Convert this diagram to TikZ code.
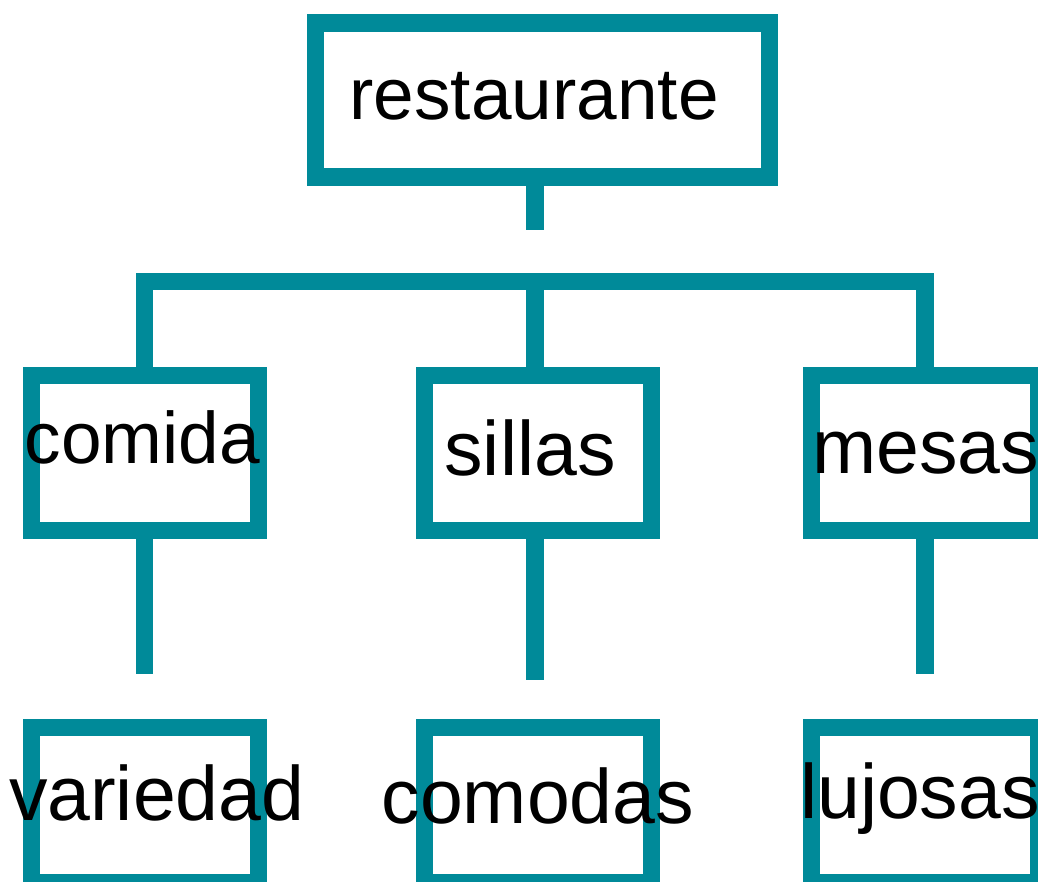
\documentclass[tikz,border=0pt]{standalone}
\usepackage{fontspec}
\setmainfont{Liberation Sans}
\usepackage{tikz}
\usepackage{xcolor}
\definecolor{teal0}{RGB}{0,138,153}
\tikzset{%
	box/.style    = {draw=teal0, line width=17.3pt, rectangle, inner sep=0pt, minimum width=227pt, minimum height=155pt},
	topbox/.style = {box, minimum width=454pt, minimum height=154pt},
	link/.style   = {draw=teal0, line width=17.3pt},
	lbl/.style    = {anchor=base, inner sep=0pt, font=\fontsize{77}{80}\selectfont},
	lblsm/.style  = {lbl, font=\fontsize{73}{80}\selectfont},
}
\begin{document}
\begin{tikzpicture}[x=1pt,y=-1pt]
	\useasboundingbox (0,0) rectangle (1038,882);
	% boxes
	\node[topbox] (rest) at (542.5,100) {};
	\node[box] (comida) at (144.7,453) {};
	\node[box] (sillas) at (538,453) {};
	\node[box] (mesas) at (925,453) {};
	\node[box] (variedad) at (144.7,804.8) {};
	\node[box] (comodas) at (538,804.8) {};
	\node[box] (lujosas) at (925,804.8) {};
	
	% connectors
	\coordinate (tstem) at (535,230);
	\coordinate (bar) at (535,281.7);
	\coordinate (cend) at (144.7,674.3);
	\coordinate (send) at (535,680);
	\coordinate (mend) at (925,674.3);
	\draw[link] (rest.south -| tstem) -- (tstem);
	\draw[link] (comida.north) |- (bar) -| (mesas.north);
	\draw[link] (bar) -- (sillas.north -| bar);
	\draw[link] (comida.south) -- (cend);
	\draw[link] (sillas.south -| send) -- (send);
	\draw[link] (mesas.south) -- (mend);
	
	% labels
	\node[lblsm] (trest) at (534,120) {restaurante};
	\node[lblsm] (tcomida) at (142.5,463) {comida};
	\node[lbl] (tsillas) at (530,475) {sillas};
	\node[lbl] (tmesas) at (925.5,473) {mesas};
	\node[lbl] (tvariedad) at (156.7,820) {variedad};
	\node[lbl] (tcomodas) at (537.8,823) {comodas};
	\node[lbl] (tlujosas) at (920,818) {lujosas};
\end{tikzpicture}
\end{document}
